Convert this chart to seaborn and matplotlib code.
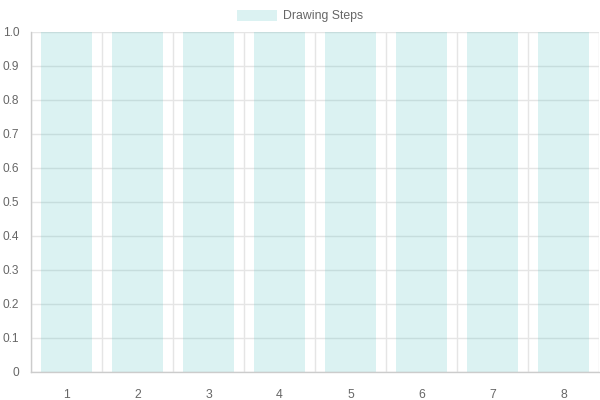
import numpy as np
import pandas as pd
import matplotlib
matplotlib.use('Agg')
import matplotlib.pyplot as plt
from matplotlib.patches import Patch
import seaborn as sns

# Data
steps = ['1', '2', '3', '4', '5', '6', '7', '8']
values = [1, 1, 1, 1, 1, 1, 1, 1]
series_label = 'Drawing Steps'
y_ticks = [0, 0.1, 0.2, 0.3, 0.4, 0.5, 0.6, 0.7, 0.8, 0.9, 1.0]
y_labels = ['0', '0.1', '0.2', '0.3', '0.4', '0.5', '0.6', '0.7', '0.8', '0.9', '1.0']

df = pd.DataFrame({'step': steps, 'value': values})

sns.set_style('white')
plt.rcParams['font.family'] = ['Liberation Sans', 'DejaVu Sans']

bar_color = (75/255, 192/255, 192/255, 0.2)
grid_color = '#e5e5e5'
text_color = '#666666'

fig = plt.figure(figsize=(6, 4), dpi=100)
ax = fig.add_axes([31/600, 28/400, 568/600, 340/400])

sns.barplot(data=df, x='step', y='value', color=bar_color, width=0.72,
            saturation=1, ax=ax, edgecolor='none', linewidth=0)
for p in ax.patches:
    p.set_facecolor(bar_color)

ax.set_ylim(0, 1.0)
ax.set_xlim(-0.5, len(steps) - 0.5)
ax.set_yticks(y_ticks)
ax.set_yticklabels(y_labels)
ax.set_xticks(range(len(steps)))
ax.set_xticklabels(steps)
ax.set_xticks(np.arange(-0.5, len(steps), 1), minor=True)

ax.tick_params(axis='x', which='major', length=0, pad=12, labelsize=8.8, colors=text_color)
ax.tick_params(axis='x', which='minor', length=7, color=grid_color, width=1)
ax.tick_params(axis='y', which='major', length=6, color=grid_color, width=1,
               pad=2.5, labelsize=8.6, labelcolor=text_color)

ax.grid(False)
ax.yaxis.grid(True, color=grid_color, linewidth=1)
ax.xaxis.grid(True, which='minor', color=grid_color, linewidth=1)
ax.set_axisbelow(True)

for side in ['top', 'right']:
    ax.spines[side].set_visible(False)
for side in ['left', 'bottom']:
    ax.spines[side].set_color('#cccccc')
    ax.spines[side].set_linewidth(1)

ax.set_xlabel('')
ax.set_ylabel('')

handle = Patch(facecolor=bar_color, edgecolor='none')
fig.legend([handle], [series_label], loc='center', bbox_to_anchor=(0.5, 1 - 16/400),
           frameon=False, fontsize=8.8, labelcolor=text_color,
           handlelength=3.3, handleheight=1.0, handletextpad=0.5)

fig.savefig('out.png', dpi=100)
